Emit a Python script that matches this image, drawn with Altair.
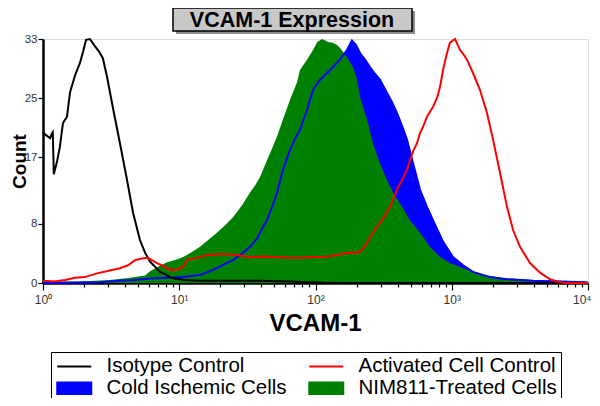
import altair as alt
import pandas as pd

# ---------------- data ----------------
# Isotype Control (black line)
iso_x = [1.00, 1.05, 1.13, 1.16, 1.18, 1.20, 1.27, 1.33, 1.40, 1.50, 1.58, 1.72, 1.87, 1.97, 2.07,
         2.21, 2.41, 2.58, 2.75, 2.95, 3.26, 3.67, 4.14, 4.58, 5.15, 5.61, 6.10, 6.64, 7.22, 7.86,
         8.55, 9.31, 11.0, 14.2, 23.6, 39.1, 65.0, 91.2, 128, 10000]
iso_y = [20.4, 20.0, 19.6, 20.2, 20.4, 14.7, 16.5, 18.4, 21.6, 22.5, 25.8, 28.1, 29.8, 31.3, 32.9,
         33.0, 32.0, 31.3, 30.4, 27.9, 23.7, 18.9, 13.9, 9.5, 5.8, 4.1, 2.9, 2.2, 1.5, 1.2,
         0.8, 0.6, 0.4, 0.3, 0.3, 0.3, 0.2, 0.1, 0, 0]

# Activated Cell Control (red line)
act_x = [1.00, 1.22, 1.45, 1.72, 2.03, 2.49, 3.10, 3.67, 4.21, 4.73, 5.33, 5.90, 6.31, 6.87, 7.60,
         8.55, 9.62, 10.7, 11.4, 12.6, 14.2, 16.3, 18.9, 22.4, 26.5, 33.0, 41.2, 52.2, 65.0, 76.9,
         94.2, 114, 134, 159, 185, 212, 231, 251, 273, 297, 324, 352, 396, 439, 469,
         520, 556, 585, 615, 658, 728, 779, 820, 863, 923, 970, 1057, 1151, 1211, 1294,
         1432, 1612, 1814, 2009, 2261, 2545, 2815, 3169, 3753, 4443, 5260, 5919, 6775, 10000]
act_y = [0.3, 0.2, 0.4, 0.7, 0.8, 1.3, 1.7, 2.0, 2.4, 3.1, 3.3, 3.4, 3.1, 2.7, 2.3,
         1.8, 1.8, 2.2, 3.1, 3.3, 3.5, 3.8, 3.9, 3.9, 3.8, 3.5, 3.6, 3.5, 3.4, 3.4,
         3.5, 3.5, 3.7, 4.0, 4.1, 4.2, 5.0, 6.2, 7.2, 8.1, 9.2, 10.3, 12.6, 14.2, 15.3,
         17.8, 18.9, 20.3, 21.1, 22.5, 23.8, 25.0, 26.5, 28.8, 31.1, 32.5, 33.0, 31.5, 31.0, 30.2,
         28.4, 26.1, 23.0, 19.4, 14.9, 10.3, 7.2, 4.9, 2.7, 1.4, 0.5, 0.2, 0, 0]

# Cold Ischemic Cells (blue filled)
cold_x = [1.00, 2.62, 3.67, 4.73, 6.10, 8.13, 10.7, 14.2, 16.3, 18.9, 21.7, 24.8, 28.9, 33.0, 37.2,
          41.2, 44.1, 48.0, 52.2, 57.7, 65.0, 70.8, 76.9, 86.6, 95.9, 108, 128, 151, 170, 185,
          198, 212, 231, 251, 273, 297, 335, 364, 396, 431, 469, 520, 585, 658, 728,
          863, 1021, 1211, 1432, 1910, 2545, 3945, 6227, 9510, 10000]
cold_y = [0, 0.1, 0.3, 0.4, 0.6, 0.7, 0.8, 1.1, 1.5, 2.0, 2.6, 3.1, 4.0, 4.9, 6.0,
          7.6, 8.5, 10.3, 12.2, 15.3, 18.0, 19.5, 20.7, 23.4, 26.1, 27.5, 28.8, 30.2, 31.5, 32.8,
          32.2, 31.1, 30.2, 29.2, 28.3, 27.5, 25.7, 24.5, 23.0, 21.3, 19.4, 16.2, 12.6, 10.3, 8.5,
          5.6, 3.5, 2.4, 1.5, 0.8, 0.5, 0.3, 0.2, 0.1, 0]

# NIM811-Treated Cells (green filled)
nim_x = [1.00, 1.87, 3.10, 4.35, 5.61, 6.10, 6.98, 8.13, 9.31, 10.7, 12.4, 14.2, 16.3, 18.9, 21.7,
         24.8, 28.9, 33.0, 36.0, 39.1, 44.1, 48.0, 52.2, 57.7, 65.0, 73.1, 76.9, 86.6, 95.9, 103,
         112, 124, 134, 144, 151, 170, 188, 202, 212, 239, 264, 297, 335, 371, 417,
         493, 585, 692, 820, 970, 1294, 1694, 2261, 3945, 6227, 9840, 10000]
nim_y = [0.2, 0.2, 0.4, 0.7, 1.0, 1.6, 2.2, 2.8, 3.1, 3.5, 4.2, 4.9, 5.8, 6.8, 7.8,
         8.9, 10.5, 12.2, 13.2, 14.3, 16.6, 18.2, 19.8, 22.1, 24.8, 27.1, 28.8, 30.2, 31.5, 32.6,
         33.0, 32.6, 32.5, 32.2, 31.8, 30.6, 29.2, 27.5, 25.2, 22.1, 18.9, 16.2, 13.9, 12.2, 10.8,
         8.5, 6.8, 4.9, 3.5, 2.7, 1.8, 1.1, 0.7, 0.4, 0.3, 0.2, 0.2]

series_names = ["Isotype Control", "Activated Cell Control", "Cold Ischemic Cells", "NIM811-Treated Cells"]
series_colors = ["#000000", "#ff0000", "#0000ff", "#008000"]

x_tick_values = [m * 10 ** d for d in range(4) for m in range(1, 10)] + [10000]
x_major_values = [1, 10, 100, 1000, 10000]
x_major_labels = ["10\u2070", "10\u00b9", "10\u00b2", "10\u00b3", "10\u2074"]
y_tick_values = [0, 8, 17, 25, 33]

chart_title = "VCAM-1 Expression"
x_title = "VCAM-1"
y_title = "Count"

FONT = "Liberation Sans"

# ---------------- tables ----------------
def table(xs, ys, name):
    return pd.DataFrame({"x": xs, "count": ys, "series": name})

iso_df = table(iso_x, iso_y, series_names[0])
act_df = table(act_x, act_y, series_names[1])
cold_df = table(cold_x, cold_y, series_names[2])
nim_df = table(nim_x, nim_y, series_names[3])

label_expr = " : ".join(
    f"datum.value == {v} ? '{l}'" for v, l in zip(x_major_values, x_major_labels)
) + " : ''"
major_test = "indexof([" + ",".join(str(v) for v in x_major_values) + "], datum.value) >= 0"

X = alt.X(
    "x:Q",
    scale=alt.Scale(type="log", domain=[1, 10000], nice=False),
    axis=alt.Axis(
        values=x_tick_values, labelExpr=label_expr, labelOverlap=False, labelFlush=False,
        tickSize={"condition": {"test": major_test, "value": 7}, "value": 4},
        labelAlign={"condition": {"test": "datum.value == 10000", "value": "right"}, "value": "center"},
        labelOffset={"condition": {"test": "datum.value == 10000", "value": 3}, "value": 0},
        tickColor="black", tickWidth=1.2, domainColor="black", domainWidth=2.5,
        labelFont=FONT, labelFontSize=12, labelColor="#333333", labelPadding=4,
        grid=False, title=x_title, titleFont=FONT, titleFontSize=24, titleFontWeight="bold",
        titleColor="black", titleX=272, titleY=40, titleBaseline="middle", titleAlign="center",
    ),
)
Y = alt.Y(
    "count:Q",
    scale=alt.Scale(domain=[0, 33], nice=False),
    axis=alt.Axis(
        values=y_tick_values, labelFlush=False, tickSize=5, tickColor="black", tickWidth=1.2,
        domainColor="black", domainWidth=2.5, labelFont=FONT, labelFontSize=11.5,
        labelColor="#333333", labelPadding=1, grid=False,
        title=y_title, titleFont=FONT, titleFontSize=19, titleFontWeight="bold",
        titleColor="black", titleAngle=-90, titleX=-24, titleY=122,
        titleBaseline="middle", titleAlign="center",
    ),
)

one = pd.DataFrame({"k": [0]})

# decorative title box with drop shadow
shadow = alt.Chart(one).mark_rect(color="#8a8a8a").encode(
    x=alt.value(133), x2=alt.value(372), y=alt.value(-28), y2=alt.value(-5))
box = alt.Chart(one).mark_rect(fill="#c8c8c8", stroke="black", strokeWidth=1.5).encode(
    x=alt.value(130), x2=alt.value(369), y=alt.value(-31), y2=alt.value(-8))
title_text = alt.Chart(one).mark_text(
    font=FONT, fontSize=21.5, fontWeight="bold", color="black", align="center", baseline="middle"
).encode(x=alt.value(249), y=alt.value(-18), text=alt.value(chart_title))

blue_area = alt.Chart(cold_df).mark_area(color=series_colors[2], opacity=1).encode(x=X, y=Y)
green_area = alt.Chart(nim_df).mark_area(color=series_colors[3], opacity=1).encode(x=X, y=Y)
blue_line = alt.Chart(cold_df).mark_line(color=series_colors[2], strokeWidth=2).encode(x=X, y=Y)
black_line = alt.Chart(iso_df).mark_line(color=series_colors[0], strokeWidth=2).encode(x=X, y=Y)
red_line = alt.Chart(act_df).mark_line(color=series_colors[1], strokeWidth=2).encode(x=X, y=Y)

# legend (points sit outside the domain and are clipped; only the legend shows)
line_sym = "M-2,0H6.5"
rect_sym = "M-2,-1.45H6.5V1.45H-2Z"
legend_df = pd.DataFrame({"x": [0.5] * 4, "count": [-5] * 4, "series": series_names})
leg = alt.Legend(
    title=None, orient="none", legendX=8, legendY=313, columns=2, columnPadding=18,
    direction="horizontal",
    rowPadding=1, padding=4, strokeColor="black", fillColor="white",
    labelFont=FONT, labelFontSize=20.5, labelColor="black", labelLimit=400, symbolSize=64,
    symbolStrokeWidth=2, labelOffset=31, symbolOffset=0, gridAlign="each",
)
legend_layer = alt.Chart(legend_df).mark_point(filled=True, opacity=1, clip=True).encode(
    x=X, y=Y,
    fill=alt.Fill("series:N", sort=series_names,
                  scale=alt.Scale(domain=series_names, range=series_colors), legend=leg),
    stroke=alt.Stroke("series:N", sort=series_names,
                      scale=alt.Scale(domain=series_names, range=series_colors), legend=leg),
    shape=alt.Shape("series:N", sort=series_names,
                    scale=alt.Scale(domain=series_names,
                                    range=[line_sym, line_sym, rect_sym, rect_sym]), legend=leg),
)

chart = alt.layer(
    shadow, box, title_text, blue_area, green_area, blue_line, black_line, red_line, legend_layer
).properties(
    width=545, height=244,
    autosize=alt.AutoSizeParams(type="none"),
    padding={"left": 35, "top": 31, "right": 4, "bottom": 115},
).configure_view(stroke="black", strokeWidth=1.5).configure(background="white")

chart.save("out.html", embed_options={"renderer": "svg", "actions": False})
